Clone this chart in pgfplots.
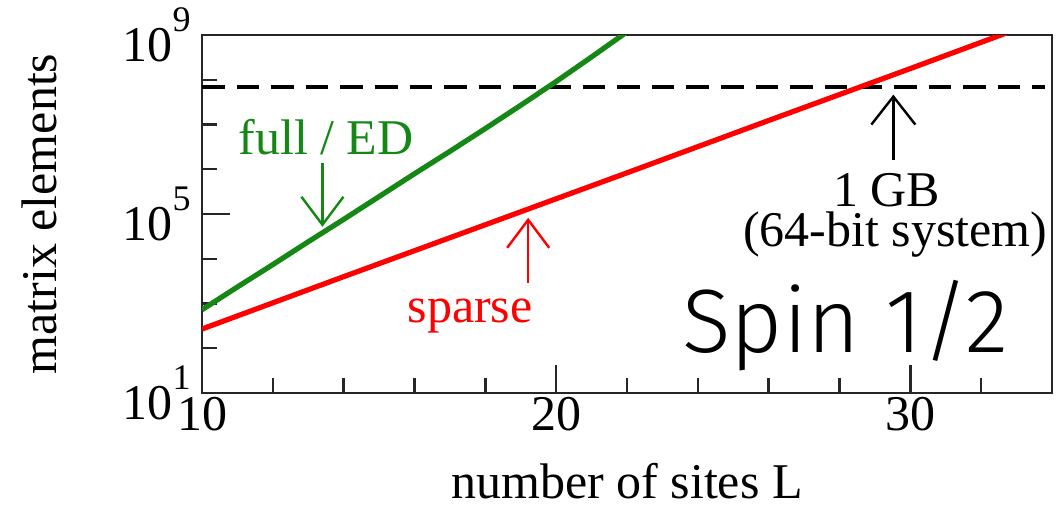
\documentclass[border=0pt]{standalone}
\usepackage{pgfplots}
\pgfplotsset{compat=1.18}
\usepackage{fontspec}
\setmainfont{Liberation Serif}
\IfFontExistsTF{Fira Sans Light}{\newfontfamily\spinfont{Fira Sans Light}}{\newfontfamily\spinfont{Lato}}
\usetikzlibrary{arrows.meta}
\definecolor{edgreen}{RGB}{20,135,20}
\definecolor{spred}{RGB}{255,0,0}
\newcommand{\pw}[1]{10\raisebox{15pt}{\fontsize{18}{18}\selectfont #1}}
\begin{document}
\begin{tikzpicture}
\begin{axis}[
  scale only axis,
  width=425pt, height=179pt,
  ymode=log,
  xmin=10, xmax=34,
  ymin=10, ymax=1e9,
  clip mode=individual,
  axis line style={line width=1.2pt, black!85},
  every tick/.style={line width=1.2pt, black!85},
  tick align=inside,
  xtick pos=bottom, ytick pos=left,
  xtick={10,20,30},
  minor xtick={12,14,16,18,22,24,26,28,32},
  ytick={10,1e5,1e9},
  yticklabels={\pw{1},\pw{5},\pw{9}},
  minor ytick={1e2,1e3,1e4,1e6,1e7,1e8},
  major tick length=14pt,
  minor tick length=7.5pt,
  tick label style={font=\fontsize{25}{30}\selectfont},
  xticklabel style={yshift=1.3pt},
  yticklabel style={xshift=-2.2pt},
  /pgf/number format/assume math mode=true,
  xlabel={number of sites L},
  ylabel={matrix elements},
  label style={font=\fontsize{25}{30}\selectfont},
  xlabel style={at={(axis description cs:0.5,-0.2933)}, anchor=base},
  ylabel style={at={(axis description cs:-0.1706,0.5)}, anchor=base, rotate=0},
]
\addplot[black, line width=2pt, dash pattern=on 11.3pt off 6pt] coordinates {(10,7.0e7) (33.8,7.0e7)};
\addplot[edgreen, line width=2.6pt] coordinates {
(10,724) (11,2344) (12,7413) (13,23988) (14,75858) (15,245471) (16,794328)
(17,2.512e6) (18,8.128e6) (19,2.692e7) (20,9.12e7) (21,3.236e8) (22,1.175e9)};
\addplot[spred, line width=2.6pt] coordinates {
(10,269) (14,3981) (18,57544) (22,831764) (26,1.23e7) (30,1.778e8) (33,1.35e9)};
\coordinate (SW) at (rel axis cs:0,0);
\coordinate (NE) at (rel axis cs:1,1);
\node[edgreen, anchor=base, font=\fontsize{25}{30}\selectfont, inner sep=0pt] at (axis cs:13.5,2.11e6) {full / ED};
\node[spred, anchor=base, font=\fontsize{25}{30}\selectfont, inner sep=0pt] at (axis cs:17.57,368) {sparse};
\node[black, anchor=base, font=\fontsize{25}{30}\selectfont, inner sep=0pt] at (axis cs:29.33,1.45e5) {1 GB};
\node[black, anchor=base, font=\fontsize{25}{30}\selectfont, inner sep=0pt] at (axis cs:29.57,1.85e4) {(64-bit system)};
\node[black, anchor=base, font=\spinfont\fontsize{45}{50}\selectfont, inner sep=0pt] at (axis cs:28.17,78.5) {Spin 1/2};
\draw[edgreen, line width=1.2pt, -{Straight Barb[length=14pt,width=21pt]}] (axis cs:13.40,1.40e6) -- (axis cs:13.40,5.18e4);
\draw[spred, line width=1.2pt, -{Straight Barb[length=14pt,width=21pt]}] (axis cs:19.21,2891) -- (axis cs:19.21,8.22e4);
\draw[black, line width=1.2pt, -{Straight Barb[length=14pt,width=22pt]}] (axis cs:29.52,1.63e6) -- (axis cs:29.52,4.65e7);
\end{axis}
\pgfresetboundingbox
\path[use as bounding box] ([xshift=-101pt,yshift=-61pt]SW) rectangle ([xshift=6pt,yshift=17.5pt]NE);
\end{tikzpicture}
\end{document}
